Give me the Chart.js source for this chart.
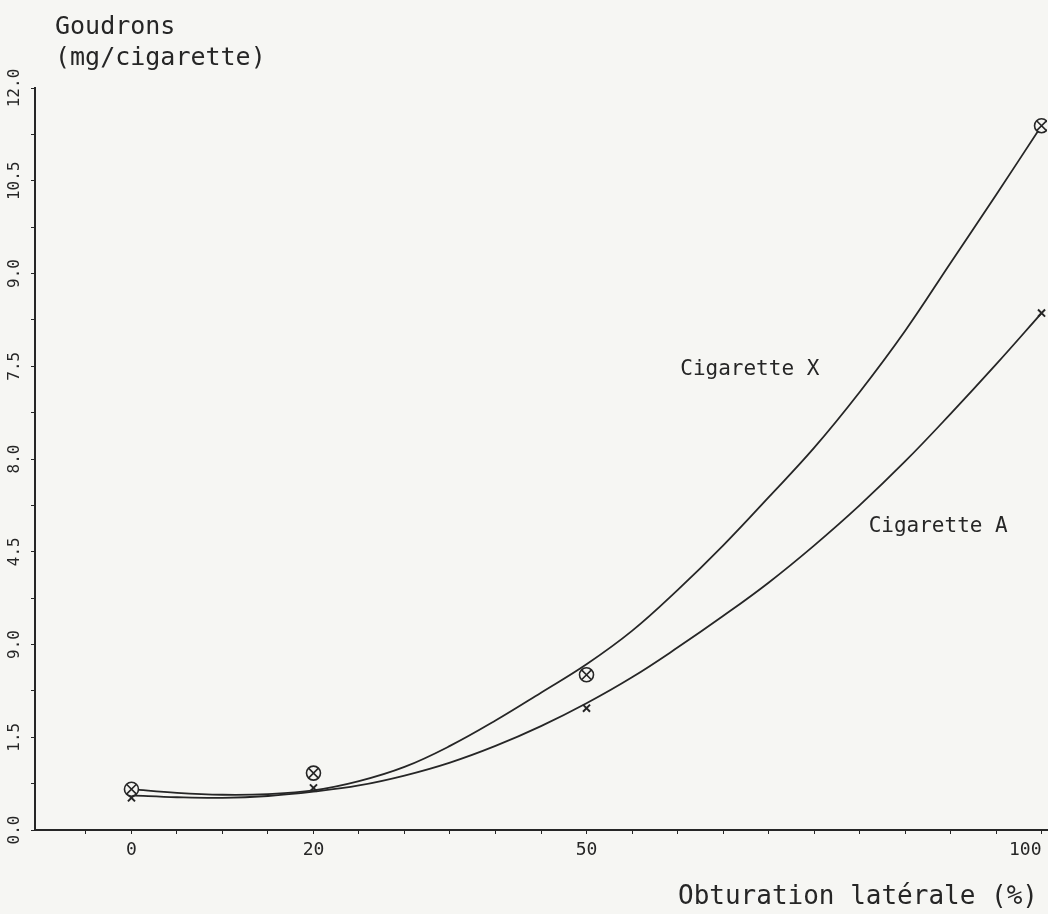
<!DOCTYPE html>
<html>
<head>
<meta charset="utf-8">
<script src="https://cdn.jsdelivr.net/npm/chart.js@4.4.0/dist/chart.umd.min.js"></script>
<style>
  html, body { margin: 0; padding: 0; background: #f6f6f3; }
  #wrap { width: 1048px; height: 914px; position: relative; }
</style>
</head>
<body>
<div id="wrap"><canvas id="chart01"></canvas></div>
<script>
// courbes lissées (obturation latérale en %)
var curveXs   = [0, 5, 10, 15, 20, 25, 30, 35, 40, 45, 50, 55, 60, 65, 70, 75, 80, 85, 90, 95, 100];
var curveCigX = [0.66, 0.60, 0.57, 0.58, 0.64, 0.79, 1.02, 1.36, 1.77, 2.22, 2.68, 3.22, 3.88, 4.60, 5.38, 6.18, 7.08, 8.07, 9.17, 10.27, 11.39];
var curveCigA = [0.56, 0.53, 0.52, 0.55, 0.62, 0.72, 0.88, 1.09, 1.36, 1.68, 2.05, 2.47, 2.95, 3.46, 4.00, 4.60, 5.25, 5.96, 6.73, 7.53, 8.36];

// points mesurés
var pointXs   = [0, 20, 50, 100];
var pointsCigX = [0.66, 0.92, 2.51, 11.39];
var pointsCigA = [0.52, 0.68, 1.97, 8.36];

// graduations
var xTicks = [-5, 0, 5, 10, 15, 20, 25, 30, 35, 40, 45, 50, 55, 60, 65, 70, 75, 80, 85, 90, 95, 100];
var xTickLabels = { 0: '0', 20: '20', 50: '50', 100: '100' };
var yTicks = [0, 0.75, 1.5, 2.25, 3, 3.75, 4.5, 5.25, 6, 6.75, 7.5, 8.25, 9, 9.75, 10.5, 11.25, 12];
var yTickLabels = ['0.0', '1.5', '9.0', '4.5', '8.0', '7.5', '9.0', '10.5', '12.0'];

var seriesNames = ['Cigarette X', 'Cigarette A'];
var seriesLabelAt = [[60.3, 7.45], [81.0, 4.9]];

var ink = '#262626';
var paper = '#f6f6f3';
var mono = '"DejaVu Sans Mono", "Liberation Mono", monospace';

function xy(xs, ys) {
  return xs.map(function(x, i) { return { x: x, y: ys[i] }; });
}

var textes = {
  id: 'textes',
  beforeDraw: function(chart) {
    var ctx = chart.ctx;
    ctx.save();
    ctx.fillStyle = paper;
    ctx.fillRect(0, 0, chart.width, chart.height);
    ctx.restore();
  },
  afterDraw: function(chart) {
    var ctx = chart.ctx;
    var sx = chart.scales.x, sy = chart.scales.y;
    ctx.save();
    ctx.fillStyle = ink;
    ctx.textBaseline = 'middle';
    ctx.textAlign = 'left';
    ctx.font = '25px ' + mono;
    ctx.fillText('Goudrons', 55, 27);
    ctx.fillText('(mg/cigarette)', 55, 58);
    ctx.font = '21px ' + mono;
    seriesNames.forEach(function(n, i) {
      ctx.fillText(n, sx.getPixelForValue(seriesLabelAt[i][0]), sy.getPixelForValue(seriesLabelAt[i][1]));
    });
    ctx.font = '26px ' + mono;
    ctx.textAlign = 'right';
    ctx.fillText('Obturation latérale (%)', 1038, 897);
    ctx.restore();
  }
};

var ctx = document.getElementById('chart01');
var chart = new Chart(ctx, {
  type: 'scatter',
  data: {
    datasets: [
    {
      label: 'Cigarette X (points)',
      data: xy(pointXs, pointsCigX),
      pointStyle: 'crossRot',
      pointRadius: 7,
      borderColor: ink,
      borderWidth: 1.6,
      order: 0
    },{
      label: 'Cigarette X (cercles)',
      data: xy(pointXs, pointsCigX),
      pointStyle: 'circle',
      pointRadius: 7,
      backgroundColor: paper,
      borderColor: ink,
      borderWidth: 1.6,
      order: 1
    },{
      label: 'Cigarette A (points)',
      data: xy(pointXs, pointsCigA),
      pointStyle: 'crossRot',
      pointRadius: 5,
      borderColor: ink,
      borderWidth: 2,
      order: 2
    },{
      label: seriesNames[0],
      data: xy(curveXs, curveCigX),
      showLine: true,
      pointRadius: 0,
      borderColor: ink,
      borderWidth: 1.8,
      tension: 0.4,
      order: 3
    },{
      label: seriesNames[1],
      data: xy(curveXs, curveCigA),
      showLine: true,
      pointRadius: 0,
      borderColor: ink,
      borderWidth: 1.8,
      tension: 0.4,
      order: 4
    }]
  },
  options: {
    responsive: true,
    maintainAspectRatio: false,
    animation: false,
    layout: { autoPadding: false, padding: { top: 88, right: 1, bottom: 0, left: 0 } },
    plugins: {
      legend: { display: false },
      tooltip: { enabled: false }
    },
    scales: {
      x: {
        type: 'linear',
        min: -10.6,
        max: 100.6,
        afterBuildTicks: function(scale) {
          scale.ticks = xTicks.map(function(v) { return { value: v }; });
        },
        afterFit: function(scale) {
          scale.height = 84;
          scale.paddingLeft = 0;
          scale.paddingRight = 0;
        },
        ticks: {
          autoSkip: false,
          maxRotation: 0,
          minRotation: 0,
          align: 'inner',
          padding: 6,
          color: ink,
          font: { family: mono, size: 18 },
          callback: function(v) { return xTickLabels[v] || ''; }
        },
        grid: { drawOnChartArea: false, drawTicks: true, tickLength: 4, color: ink },
        border: { color: ink, width: 2 }
      },
      y: {
        type: 'linear',
        min: 0,
        max: 12,
        afterBuildTicks: function(scale) {
          scale.ticks = yTicks.map(function(v) { return { value: v }; });
        },
        afterFit: function(scale) {
          scale.width = 35;
          scale.paddingTop = 0;
          scale.paddingBottom = 0;
        },
        ticks: {
          autoSkip: false,
          minRotation: 90,
          maxRotation: 90,
          crossAlign: 'center',
          padding: -3,
          color: ink,
          font: { family: mono, size: 16 },
          callback: function(v) {
            var i = Math.round(v / 1.5);
            return Math.abs(v - i * 1.5) < 1e-6 ? yTickLabels[i] : '';
          }
        },
        grid: { drawOnChartArea: false, drawTicks: true, tickLength: 4, color: ink },
        border: { color: ink, width: 2 }
      }
    }
  },
  plugins: [textes]
});
</script>
</body>
</html>
